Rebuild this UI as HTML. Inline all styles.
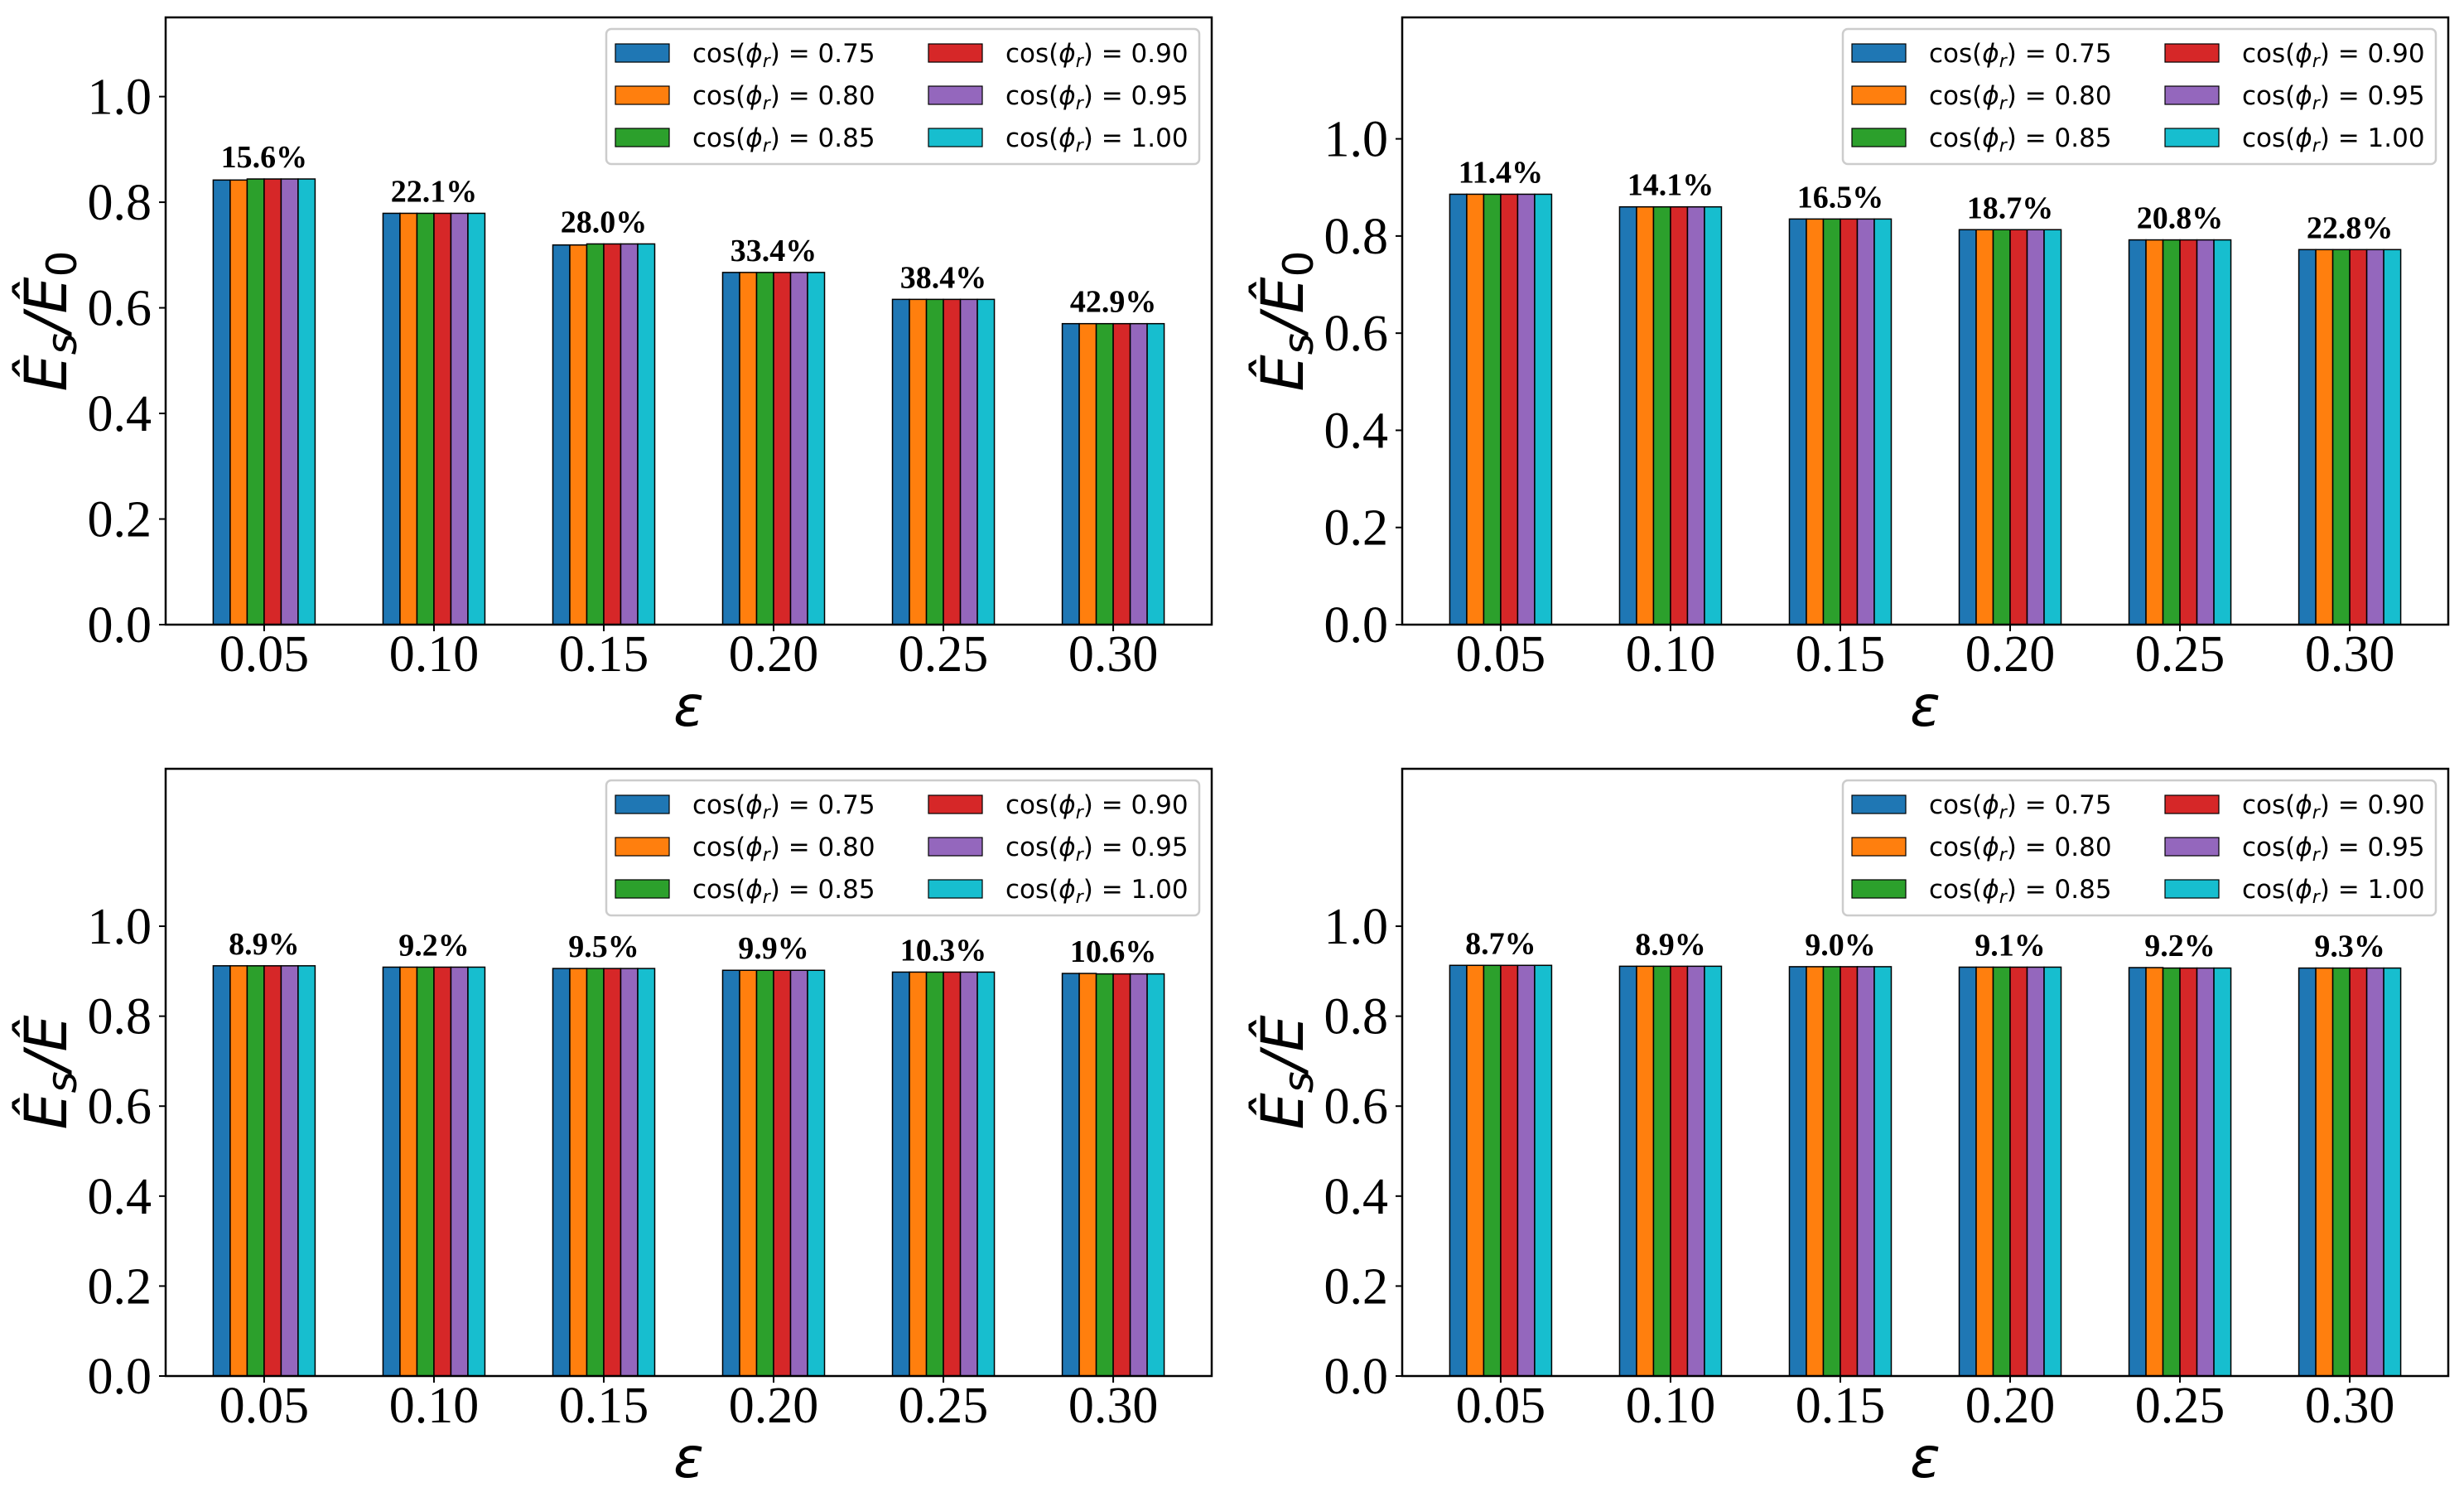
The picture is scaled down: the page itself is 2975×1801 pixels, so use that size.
<!DOCTYPE html>
<html><head><meta charset="utf-8">
<style>
html,body{margin:0;padding:0;background:#fff;}
svg{display:block;}
</style></head>
<body>
<svg id="fig" width="2975" height="1801" viewBox="0 0 2975 1801" xmlns="http://www.w3.org/2000/svg"></svg>
<script>
const categories = ["0.05","0.10","0.15","0.20","0.25","0.30"];
const seriesLabels = ["0.75","0.80","0.85","0.90","0.95","1.00"];
const colors = ["#1f77b4","#ff7f0e","#2ca02c","#d62728","#9467bd","#17becf"];
const yTicks = [0.0,0.2,0.4,0.6,0.8,1.0];
const yTickLabels = ["0.0","0.2","0.4","0.6","0.8","1.0"];

const valuesTL = [
 [0.842,0.842,0.844,0.844,0.844,0.844],
 [0.779,0.779,0.779,0.779,0.779,0.779],
 [0.719,0.719,0.721,0.721,0.721,0.721],
 [0.667,0.667,0.667,0.667,0.667,0.667],
 [0.616,0.616,0.616,0.616,0.616,0.616],
 [0.570,0.570,0.570,0.570,0.570,0.570]];
const valuesTR = [
 [0.886,0.886,0.886,0.886,0.886,0.886],
 [0.860,0.860,0.860,0.860,0.860,0.860],
 [0.835,0.835,0.835,0.835,0.835,0.835],
 [0.813,0.813,0.813,0.813,0.813,0.813],
 [0.792,0.792,0.792,0.792,0.792,0.792],
 [0.772,0.772,0.772,0.772,0.772,0.772]];
const valuesBL = [
 [0.912,0.912,0.912,0.912,0.912,0.912],
 [0.909,0.909,0.909,0.909,0.909,0.909],
 [0.906,0.906,0.906,0.906,0.906,0.906],
 [0.902,0.902,0.902,0.902,0.902,0.902],
 [0.898,0.898,0.898,0.898,0.898,0.898],
 [0.895,0.895,0.894,0.894,0.894,0.894]];
const valuesBR = [
 [0.913,0.913,0.913,0.913,0.913,0.913],
 [0.911,0.911,0.911,0.911,0.911,0.911],
 [0.910,0.910,0.910,0.910,0.910,0.910],
 [0.909,0.909,0.909,0.909,0.909,0.909],
 [0.908,0.908,0.907,0.907,0.907,0.907],
 [0.907,0.907,0.907,0.907,0.907,0.907]];
const annotTL = ["15.6%","22.1%","28.0%","33.4%","38.4%","42.9%"];
const annotTR = ["11.4%","14.1%","16.5%","18.7%","20.8%","22.8%"];
const annotBL = ["8.9%","9.2%","9.5%","9.9%","10.3%","10.6%"];
const annotBR = ["8.7%","8.9%","9.0%","9.1%","9.2%","9.3%"];
const yMaxTL = 1.15, yMaxTR = 1.25, yMaxBL = 1.35, yMaxBR = 1.35;

const NS = "http://www.w3.org/2000/svg";
const fig = document.getElementById('fig');
function mk(tag, attrs, parent, text){
  const e = document.createElementNS(NS, tag);
  for (const k in attrs) e.setAttribute(k, attrs[k]);
  if (text !== undefined) e.textContent = text;
  (parent||fig).appendChild(e);
  return e;
}

function drawPanel(name, ox, oy, values, annots, yMax, denomSub){
  const L = ox+200, R = ox+1463, T = oy+21, B = oy+754;
  const g = mk('g', {});
  
  
  const n = categories.length;
  const xmin = -0.58, xmax = n - 1 + 0.58;
  const xs = v => L + (v - xmin) / (xmax - xmin) * (R - L);
  const ys = v => B - v / yMax * (B - T);
  const unit = xs(1) - xs(0);
  const bw = unit * 0.1;
  for (let i = 0; i < n; i++) {
    for (let s = 0; s < seriesLabels.length; s++) {
      const x0 = xs(i) + (s - 3) * bw;
      const v = values[i][s];
      const r = mk('rect', {x: x0, y: ys(v), width: bw, height: ys(0) - ys(v), fill: colors[s], stroke: '#000', 'stroke-width': 1.5}, g);
      
      
    }
    const top = Math.max(...values[i]);
    const t = mk('text', {x: xs(i), y: ys(top) - 14, 'text-anchor': 'middle', 'font-family': '"Liberation Serif", serif', 'font-weight': 'bold', 'font-size': 38}, g, annots[i]);
    
    
  }
  const fr = mk('rect', {x: L, y: T, width: R - L, height: B - T, fill: 'none', stroke: '#000', 'stroke-width': 2.5}, g);
  
  
  yTicks.forEach((v, k) => {
    const y = ys(v);
    mk('line', {x1: L - 8, x2: L, y1: y, y2: y, stroke: '#000', 'stroke-width': 2}, g);
    const t = mk('text', {x: L - 17, y: y + 21, 'text-anchor': 'end', 'font-family': '"Liberation Serif", serif', 'font-size': 62}, g, yTickLabels[k]);
    
    
  });
  categories.forEach((c, i) => {
    const x = xs(i);
    mk('line', {x1: x, x2: x, y1: B, y2: B + 8, stroke: '#000', 'stroke-width': 2}, g);
    const t = mk('text', {x: x, y: B + 56, 'text-anchor': 'middle', 'font-family': '"Liberation Serif", serif', 'font-size': 62}, g, c);
    
    
  });
  const xl = mk('text', {x: (L + R) / 2, y: B + 122, 'text-anchor': 'middle', 'font-family': '"DejaVu Sans", sans-serif', 'font-style': 'italic', 'font-size': 68}, g, 'ε');
  
  
  const yl = mk('text', {transform: 'translate(' + (ox + 80) + ',' + ((T + B) / 2) + ') rotate(-90)', 'text-anchor': 'middle', 'font-family': '"DejaVu Sans", sans-serif', 'font-style': 'italic', 'font-size': 70}, g);
  
  
  mk('tspan', {}, yl, 'Ê');
  mk('tspan', {'font-size': 50, dy: 12}, yl, 's');
  mk('tspan', {dy: -12}, yl, '/Ê');
  if (denomSub) mk('tspan', {'font-size': 50, dy: 12, 'font-style': 'normal'}, yl, denomSub);
  const lg = mk('g', {}, g);
  
  
  const lx = R - 731, ly = T + 14;
  mk('rect', {x: lx, y: ly, width: 716, height: 163, rx: 6, fill: '#fff', 'fill-opacity': 0.8, stroke: '#cccccc', 'stroke-width': 2.5}, lg);
  seriesLabels.forEach((s, k) => {
    const col = Math.floor(k / 3), row = k % 3;
    const hx = lx + 11 + col * 378, cy = ly + 29 + row * 51;
    const e = mk('g', {}, lg);
    
    
    mk('rect', {x: hx, y: cy - 11, width: 65, height: 22, fill: colors[k], stroke: '#000', 'stroke-width': 1.2}, e);
    const t = mk('text', {x: hx + 93, y: cy + 11, 'font-family': '"DejaVu Sans", sans-serif', 'font-size': 31}, e);
    mk('tspan', {}, t, 'cos(');
    mk('tspan', {'font-style': 'italic'}, t, 'ϕ');
    mk('tspan', {'font-style': 'italic', 'font-size': 22, dy: 6}, t, 'r');
    mk('tspan', {dy: -6}, t, ') = ' + s);
  });
}

drawPanel('panel-top-left', 0, 0, valuesTL, annotTL, yMaxTL, '0');
drawPanel('panel-top-right', 1493, 0, valuesTR, annotTR, yMaxTR, '0');
drawPanel('panel-bottom-left', 0, 907, valuesBL, annotBL, yMaxBL, '');
drawPanel('panel-bottom-right', 1493, 907, valuesBR, annotBR, yMaxBR, '');
</script>
</body></html>
